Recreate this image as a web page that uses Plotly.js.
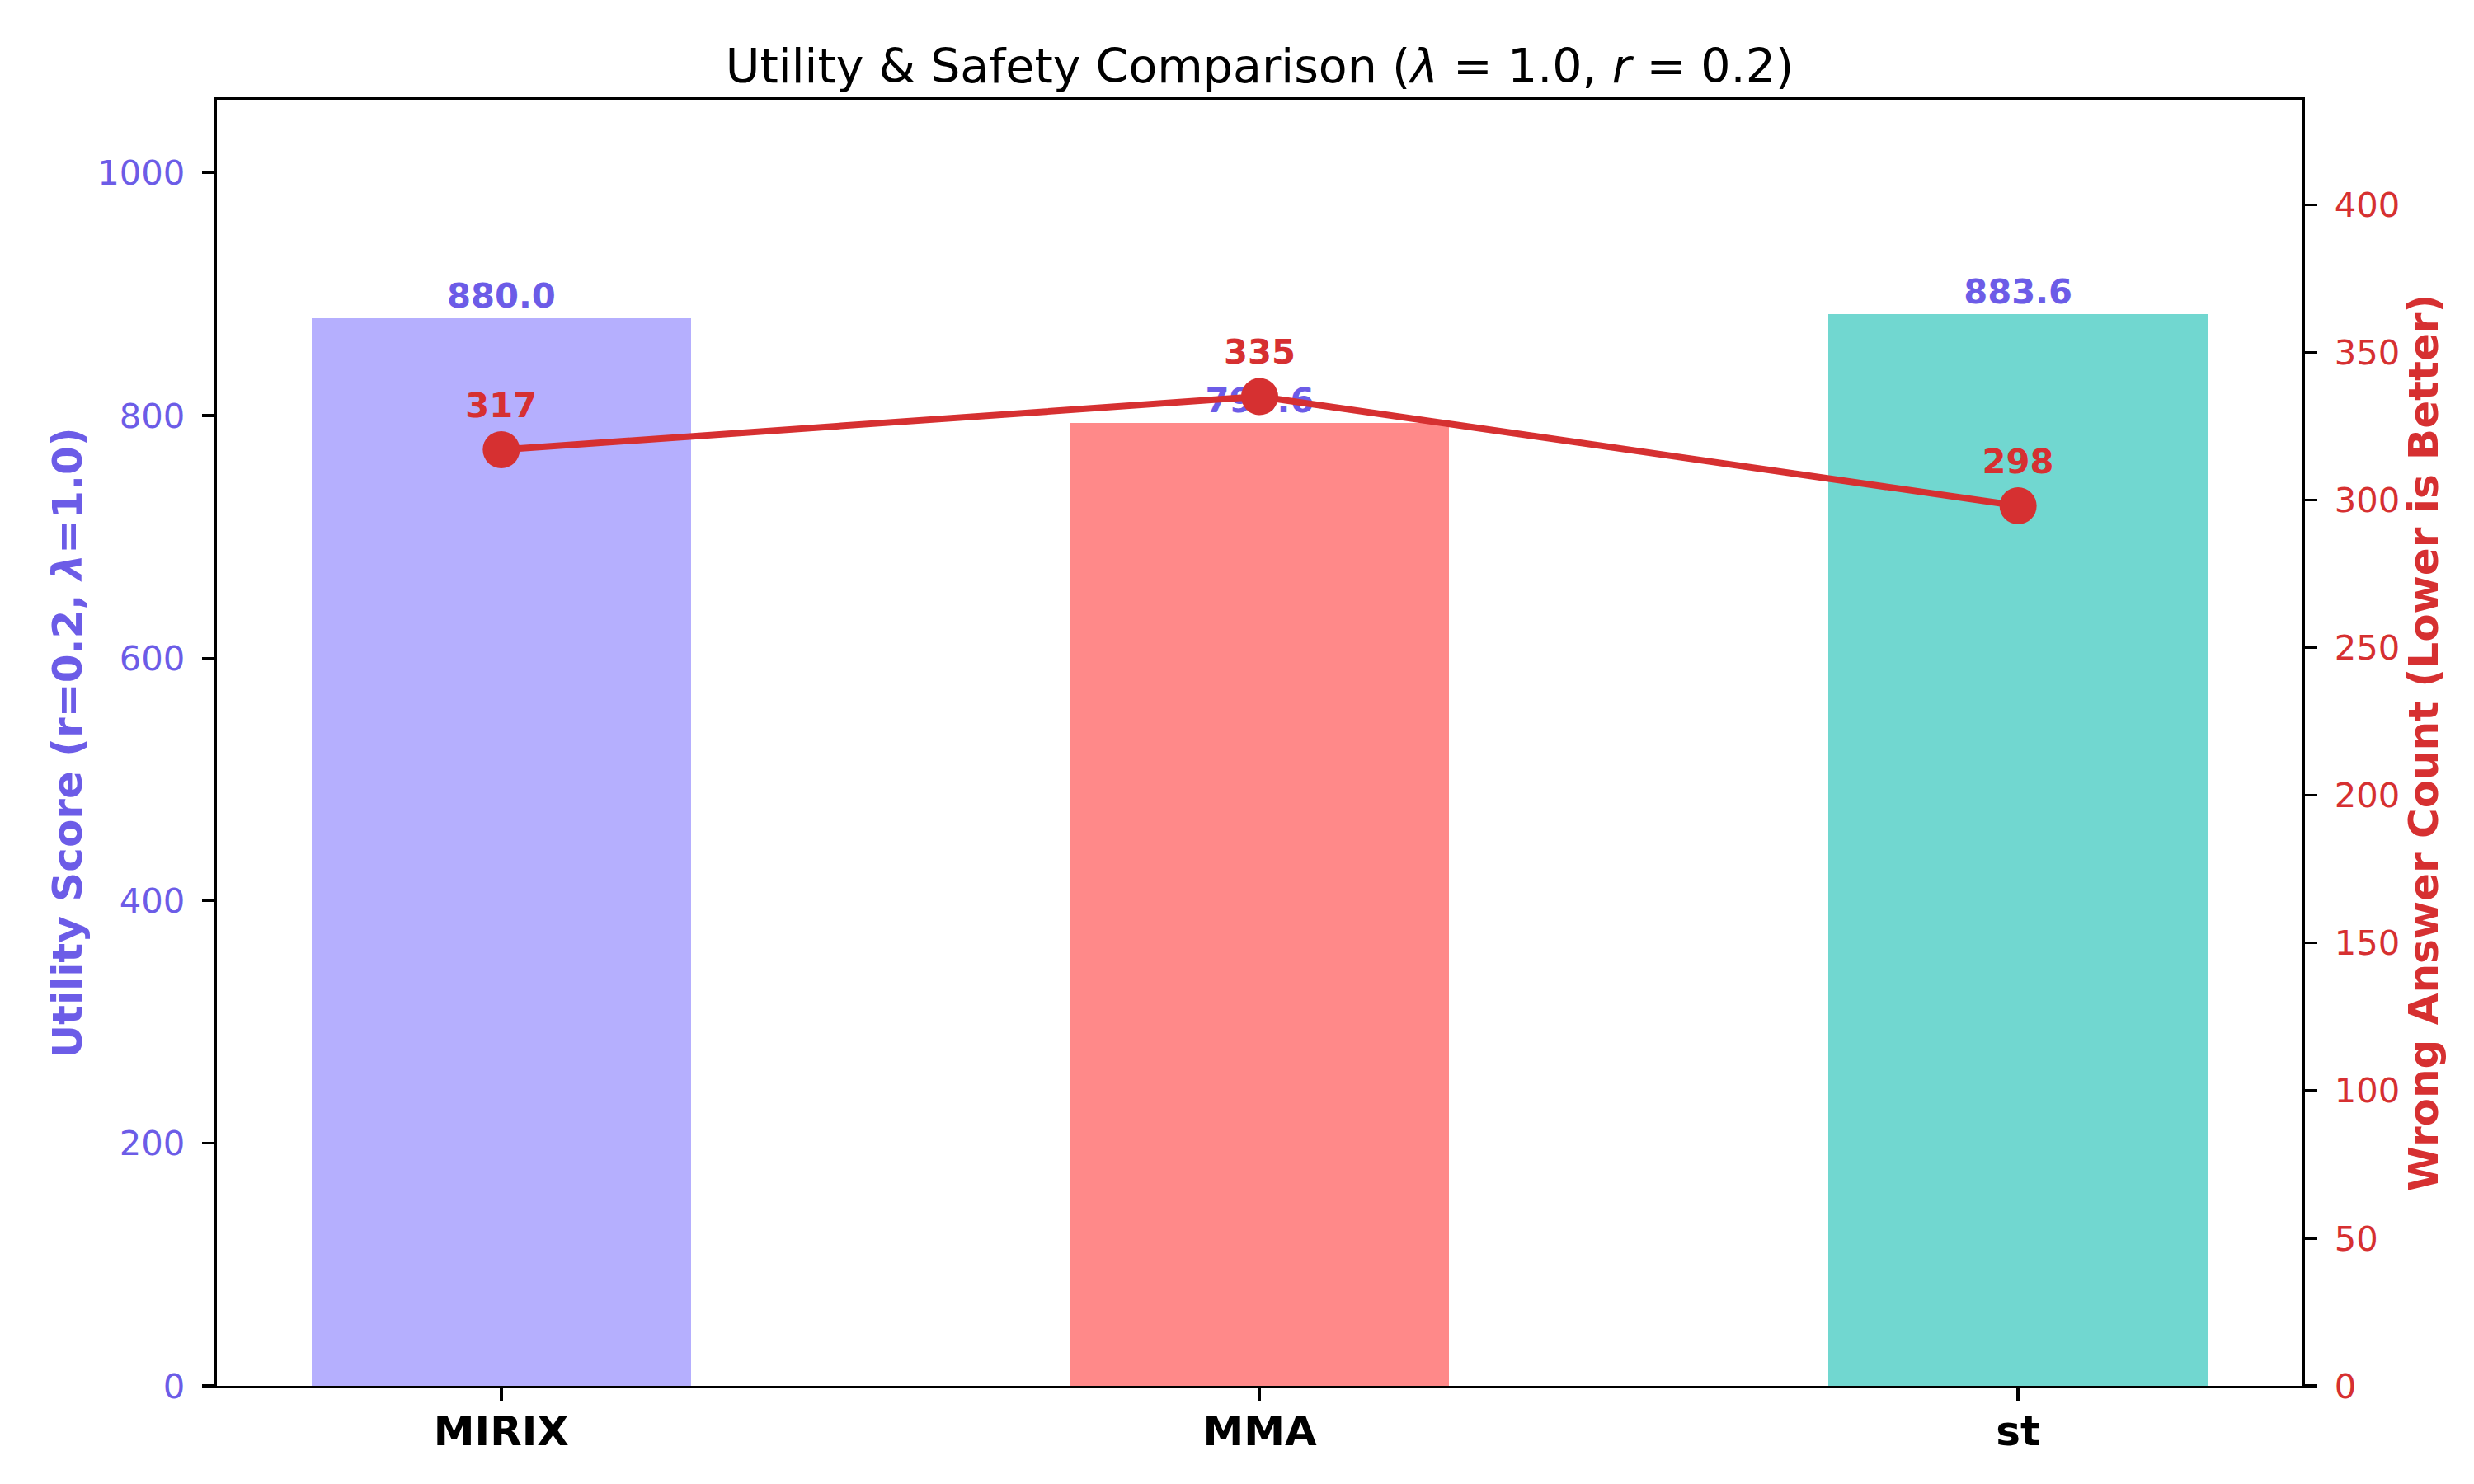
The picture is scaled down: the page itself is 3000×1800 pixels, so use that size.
<!DOCTYPE html>
<html>
<head>
<meta charset="utf-8">
<script src="https://cdn.plot.ly/plotly-3.0.1.min.js"></script>
<style>html,body{margin:0;padding:0;background:#fff;}</style>
</head>
<body>
<div id="chart" style="width:3000px;height:1800px;"></div>
<script>
const categories = ['MIRIX', 'MMA', 'st'];
const utilityScores = [880.0, 793.6, 883.6];
const wrongCounts = [317, 335, 298];
const barColors = ['rgba(162,155,254,0.8)', 'rgba(255,107,107,0.8)', 'rgba(78,205,196,0.8)'];

const purple = '#6c5ce7';
const red = '#d63031';
const FONT = 'DejaVu Sans, sans-serif';

const utilityMax = Math.max(...utilityScores) * 1.2;
const wrongMax = Math.max(...wrongCounts) * 1.3;

const bars = {
  type: 'bar',
  x: categories,
  y: utilityScores,
  width: 0.5,
  marker: {color: barColors, line: {width: 0}},
  texttemplate: '%{y:.1f}',
  textposition: 'outside',
  cliponaxis: false,
  textfont: {family: FONT, size: 41.7, color: purple, weight: 'bold'},
  yaxis: 'y',
  hoverinfo: 'skip',
  showlegend: false
};

const line = {
  type: 'scatter',
  mode: 'lines+markers+text',
  x: categories,
  y: wrongCounts,
  yaxis: 'y2',
  line: {color: red, width: 8},
  marker: {color: red, size: 45},
  texttemplate: '%{y}',
  textposition: 'top center',
  cliponaxis: false,
  textfont: {family: FONT, size: 41.7, color: red, weight: 'bold'},
  hoverinfo: 'skip',
  showlegend: false
};

const layout = {
  width: 3000,
  height: 1800,
  paper_bgcolor: '#ffffff',
  plot_bgcolor: '#ffffff',
  margin: {l: 263, r: 208, t: 121, b: 119, pad: 0},
  font: {family: FONT, color: '#000'},
  title: {
    text: 'Utility & Safety Comparison (<i>λ</i> = 1.0, <i>r</i> = 0.2)',
    font: {family: FONT, size: 57, color: '#000'},
    x: 0.5,
    xref: 'paper',
    xanchor: 'center',
    yref: 'container',
    y: 0.9556,
    yanchor: 'middle'
  },
  bargap: 0,
  xaxis: {
    type: 'category',
    range: [-0.375, 2.375],
    showgrid: false,
    zeroline: false,
    showline: true,
    linecolor: '#000',
    linewidth: 3.3,
    mirror: true,
    ticks: 'outside',
    ticklen: 15,
    tickwidth: 3.3,
    tickcolor: '#000',
    ticklabelstandoff: -6,
    tickfont: {family: FONT, size: 50, color: '#000', weight: 'bold'}
  },
  yaxis: {
    range: [0, utilityMax],
    dtick: 200,
    tick0: 0,
    showgrid: false,
    zeroline: false,
    showline: true,
    linecolor: '#000',
    linewidth: 3.3,
    mirror: true,
    ticks: 'outside',
    ticklen: 15,
    tickwidth: 3.3,
    tickcolor: '#000',
    ticklabelstandoff: 12,
    tickfont: {family: FONT, size: 41.7, color: purple},
    title: {
      text: 'Utility Score (r=0.2, <i>λ</i>=1.0)',
      font: {family: FONT, size: 50, color: purple, weight: 'bold'},
      standoff: 3
    },
    automargin: false
  },
  yaxis2: {
    overlaying: 'y',
    side: 'right',
    range: [0, wrongMax],
    dtick: 50,
    tick0: 0,
    showgrid: false,
    zeroline: false,
    showline: true,
    linecolor: '#000',
    linewidth: 3.3,
    ticks: 'outside',
    ticklen: 15,
    tickwidth: 3.3,
    tickcolor: '#000',
    ticklabelstandoff: 12,
    tickfont: {family: FONT, size: 41.7, color: red},
    title: {
      text: 'Wrong Answer Count (Lower is Better)',
      font: {family: FONT, size: 50, color: red, weight: 'bold'},
      standoff: 0
    },
    automargin: false
  }
};

Plotly.newPlot('chart', [bars, line], layout, {staticPlot: true, displayModeBar: false});
</script>
</body>
</html>
